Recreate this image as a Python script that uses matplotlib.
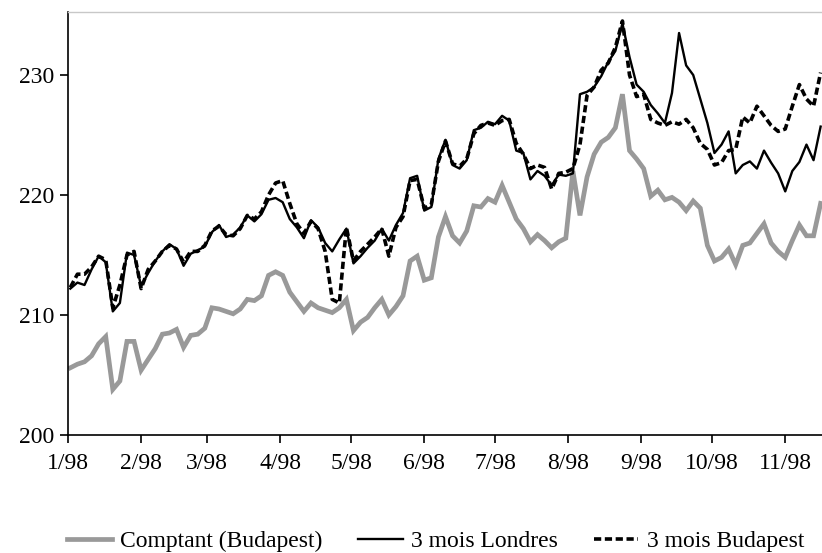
"""Cours du cuivre 1998 : comptant Budapest, 3 mois Londres, 3 mois Budapest."""

import matplotlib
matplotlib.use("Agg")
import matplotlib.dates as mdates
import matplotlib.pyplot as plt
import pandas as pd


# one reading every 3 calendar days, 2 Jan 1998 -> 16 Nov 1998
DATES = pd.date_range("1998-01-02", "1998-11-16", freq="3D")

COMPTANT = [
    205.6, 205.9, 206.1, 206.6, 207.6, 208.2, 203.8, 204.5, 207.8, 207.8,
    205.4, 206.3, 207.2, 208.4, 208.5, 208.8, 207.3, 208.3, 208.4, 208.9,
    210.6, 210.5, 210.3, 210.1, 210.5, 211.3, 211.2, 211.6, 213.3, 213.6,
    213.3, 211.9, 211.1, 210.3, 211.0, 210.6, 210.4, 210.2, 210.6, 211.3,
    208.7, 209.4, 209.8, 210.6, 211.3, 210.0, 210.7, 211.6, 214.5, 214.9,
    212.9, 213.1, 216.5, 218.2, 216.6, 216.0, 217.0, 219.1, 219.0, 219.7,
    219.4, 220.8, 219.4, 218.0, 217.2, 216.1, 216.7, 216.2, 215.6, 216.1,
    216.4, 222.0, 218.3, 221.5, 223.4, 224.4, 224.8, 225.6, 228.4, 223.7,
    223.0, 222.2, 219.9, 220.4, 219.6, 219.8, 219.4, 218.7, 219.5, 218.9,
    215.8, 214.5, 214.8, 215.5, 214.2, 215.8, 216.0, 216.8, 217.6, 216.0,
    215.3, 214.8, 216.2, 217.5, 216.6, 216.6, 219.3,
]

LONDRES_3M = [
    212.2, 212.7, 212.5, 213.8, 214.9, 214.4, 210.3, 211.0, 215.2, 215.0,
    212.4, 213.5, 214.5, 215.3, 215.9, 215.5, 214.1, 215.1, 215.4, 215.7,
    216.9, 217.5, 216.5, 216.7, 217.3, 218.3, 217.8, 218.4, 219.6, 219.75,
    219.4, 218.0, 217.3, 216.4, 217.9, 217.3, 216.0, 215.3, 216.3, 217.2,
    214.3, 214.9, 215.6, 216.2, 217.2, 216.2, 217.5, 218.5, 221.4, 221.6,
    218.7, 219.0, 223.0, 224.6, 222.5, 222.2, 222.9, 225.4, 225.6, 226.1,
    225.9, 226.6, 226.2, 223.7, 223.5, 221.3, 222.0, 221.6, 220.8, 221.7,
    221.6, 221.8, 228.4, 228.6, 229.0, 229.9, 231.1, 232.0, 234.3, 231.5,
    229.2, 228.6, 227.5, 226.8, 226.0, 228.5, 233.5, 230.8, 230.0, 228.0,
    226.0, 223.5, 224.2, 225.3, 221.8, 222.5, 222.8, 222.2, 223.7, 222.7,
    221.8, 220.3, 222.0, 222.75, 224.2, 222.9, 225.7,
]

BUDAPEST_3M = [
    212.3, 213.4, 213.4, 214.0, 214.9, 214.6, 210.6, 212.5, 215.0, 215.3,
    212.2, 213.8, 214.5, 215.3, 215.8, 215.5, 214.4, 215.3, 215.3, 215.8,
    217.0, 217.4, 216.7, 216.6, 217.2, 218.3, 218.0, 218.6, 220.0, 221.0,
    221.2, 219.3, 217.6, 216.8, 217.8, 217.2, 215.3, 211.3, 211.0, 217.3,
    214.5, 215.3, 215.9, 216.5, 217.2, 214.9, 217.3, 218.2, 221.2, 221.3,
    218.9, 219.2, 222.8, 224.5, 222.6, 222.4, 223.0, 225.1, 225.8, 226.0,
    225.8, 226.2, 226.3, 224.3, 223.4, 222.2, 222.5, 222.3, 220.5, 221.8,
    221.9, 222.2, 224.2, 228.3, 229.0, 230.4, 231.0, 232.3, 234.5, 230.0,
    228.2, 228.4, 226.3, 226.0, 225.8, 226.1, 225.9, 226.3, 225.6, 224.3,
    223.8, 222.5, 222.7, 223.7, 223.8, 226.5, 226.0, 227.4, 226.6, 225.8,
    225.3, 225.5, 227.4, 229.2, 228.0, 227.4, 230.2,
]

MONTH_TICKS = pd.date_range("1998-01-01", "1998-11-01", freq="MS")
Y_TICKS = [200, 210, 220, 230]


def main():
    plt.rcParams["font.family"] = ["Liberation Serif", "DejaVu Serif"]
    plt.rcParams["font.size"] = 17

    fig = plt.figure(figsize=(8.22, 5.53), dpi=100)
    ax = fig.add_axes([0.0827, 0.2134, 0.9173, 0.7649])

    ax.plot(DATES, COMPTANT, color="#999999", lw=3.4,
            solid_joinstyle="miter", label="Comptant (Budapest)")
    ax.plot(DATES, LONDRES_3M, color="black", lw=1.7,
            label="3 mois Londres")
    ax.plot(DATES, BUDAPEST_3M, color="black", lw=2.6,
            dashes=(2.0, 1.0), label="3 mois Budapest")

    ax.set_xlim(pd.Timestamp("1998-01-01"),
                pd.Timestamp("1998-11-16 14:00"))
    ax.set_ylim(200, 235.25)
    ax.set_yticks(Y_TICKS)
    ax.set_xticks(MONTH_TICKS)
    ax.xaxis.set_major_formatter(
        plt.FuncFormatter(lambda v, _: "%d/98" % mdates.num2date(v).month))

    ax.tick_params(axis="both", direction="out", length=6, width=1.2,
                   colors="black", labelsize=17)
    ax.tick_params(axis="x", pad=7)
    ax.tick_params(axis="y", pad=4)

    for side in ("left", "bottom"):
        ax.spines[side].set_linewidth(1.2)
        ax.spines[side].set_color("black")
    ax.spines["top"].set_color("#c8c8c8")
    ax.spines["top"].set_linewidth(1.0)
    ax.spines["right"].set_visible(False)

    fig.legend(loc="center", bbox_to_anchor=(0.53, 0.021), ncol=3,
               frameon=False, fontsize=17, handlelength=1.9,
               handletextpad=0.35, columnspacing=1.5)

    fig.savefig("out.png", dpi=100)
    plt.close(fig)


if __name__ == "__main__":
    main()
